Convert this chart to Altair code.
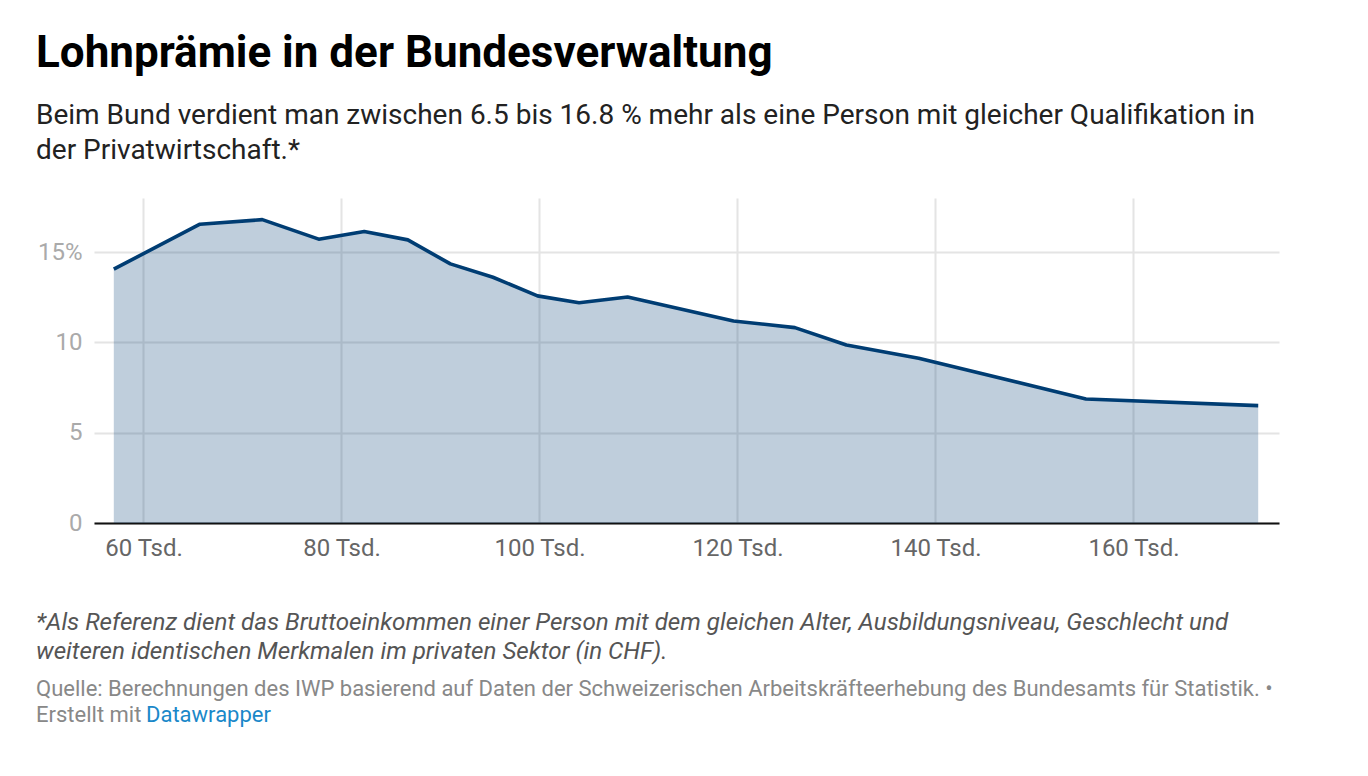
import altair as alt
import pandas as pd

# ---- data ----
income_tsd = [57.0, 65.7, 72.0, 77.7, 82.3, 86.7, 91.0, 95.3, 99.8, 104.0,
              108.9, 119.6, 125.8, 131.0, 138.3, 155.2, 172.6]
premium_pct = [14.06, 16.55, 16.8, 15.72, 16.14, 15.68, 14.35, 13.61, 12.58, 12.2,
               12.52, 11.19, 10.82, 9.86, 9.12, 6.87, 6.5]
x_ticks = [60, 80, 100, 120, 140, 160]
y_ticks = [0, 5, 10, 15]

title_text = "Lohnprämie in der Bundesverwaltung"
subtitle_lines = [
    "Beim Bund verdient man zwischen 6.5 bis 16.8 % mehr als eine Person mit gleicher Qualifikation in",
    "der Privatwirtschaft.*",
]
note_lines = [
    "*Als Referenz dient das Bruttoeinkommen einer Person mit dem gleichen Alter, Ausbildungsniveau, Geschlecht und",
    "weiteren identischen Merkmalen im privaten Sektor (in CHF).",
]
source_lines = [
    "Quelle: Berechnungen des IWP basierend auf Daten der Schweizerischen Arbeitskräfteerhebung des Bundesamts für Statistik. •",
    "Erstellt mit ",
]
credit_link = "Datawrapper"

LINE = "#003d73"
FONT = "Roboto"
TOP = 198  # plot top in page pixels (used only for text placement)

df = pd.DataFrame({"income": income_tsd, "premium": premium_pct})

x_enc = alt.X(
    "income:Q",
    scale=alt.Scale(domain=[55, 174.7], nice=False, zero=False),
    axis=alt.Axis(
        values=x_ticks,
        labelExpr="datum.value + ' Tsd.'",
        title=None,
        ticks=False,
        grid=True,
        gridColor="#e4e4e4",
        gridWidth=2,
        domain=True,
        domainColor="#111111",
        domainWidth=2,
        labelFont=FONT,
        labelFontSize=24,
        labelColor="#666666",
        labelPadding=13,
    ),
)
y_enc = alt.Y(
    "premium:Q",
    scale=alt.Scale(domain=[0, 18], nice=False),
    axis=alt.Axis(
        values=y_ticks,
        labelExpr="datum.value == 15 ? '15%' : datum.label",
        title=None,
        ticks=False,
        domain=False,
        grid=True,
        gridColor="#e4e4e4",
        gridWidth=2,
        labelFont=FONT,
        labelFontSize=24,
        labelColor="#aaaaaa",
        labelPadding=12,
    ),
)

base = alt.Chart(df)
area = base.mark_area(color=LINE, opacity=0.25).encode(x=x_enc, y=y_enc)
line = base.mark_line(color=LINE, strokeWidth=3.6, strokeJoin="round").encode(
    x="income:Q", y="premium:Q"
)


def text_layer(txt, x, y, size, color, italic=False):
    return alt.Chart(pd.DataFrame({"t": [txt]})).mark_text(
        align="left",
        baseline="alphabetic",
        font=FONT,
        fontSize=size,
        fontStyle="italic" if italic else "normal",
        color=color,
    ).encode(text="t:N", x=alt.value(x), y=alt.value(y))


layers = [
    area,
    line,
    text_layer(note_lines[0], -58, 630 - TOP, 24.2, "#555555", True),
    text_layer(note_lines[1], -58, 659 - TOP, 24.2, "#555555", True),
    text_layer(source_lines[0], -58, 696 - TOP, 22, "#888888"),
    text_layer(source_lines[1], -58, 722 - TOP, 22, "#888888"),
    text_layer(credit_link, 52, 722 - TOP, 22, "#1a88c9"),
]

chart = alt.layer(*layers).properties(
    width=1185,
    height=325,
    title=alt.Title(
        text=title_text,
        subtitle=subtitle_lines,
        anchor="start",
        frame="group",
        dx=-58,
        offset=33,
        font=FONT,
        fontSize=44,
        fontWeight="bold",
        color="#000000",
        subtitleFont=FONT,
        subtitleFontSize=28,
        subtitleColor="#222222",
        subtitleLineHeight=35,
        subtitlePadding=26,
    ),
    autosize=alt.AutoSizeParams(type="none"),
    padding={"left": 86, "top": 190, "right": 60, "bottom": 230},
).configure_view(stroke=None)

chart.save("out.html", embed_options={"renderer": "svg", "actions": False})
